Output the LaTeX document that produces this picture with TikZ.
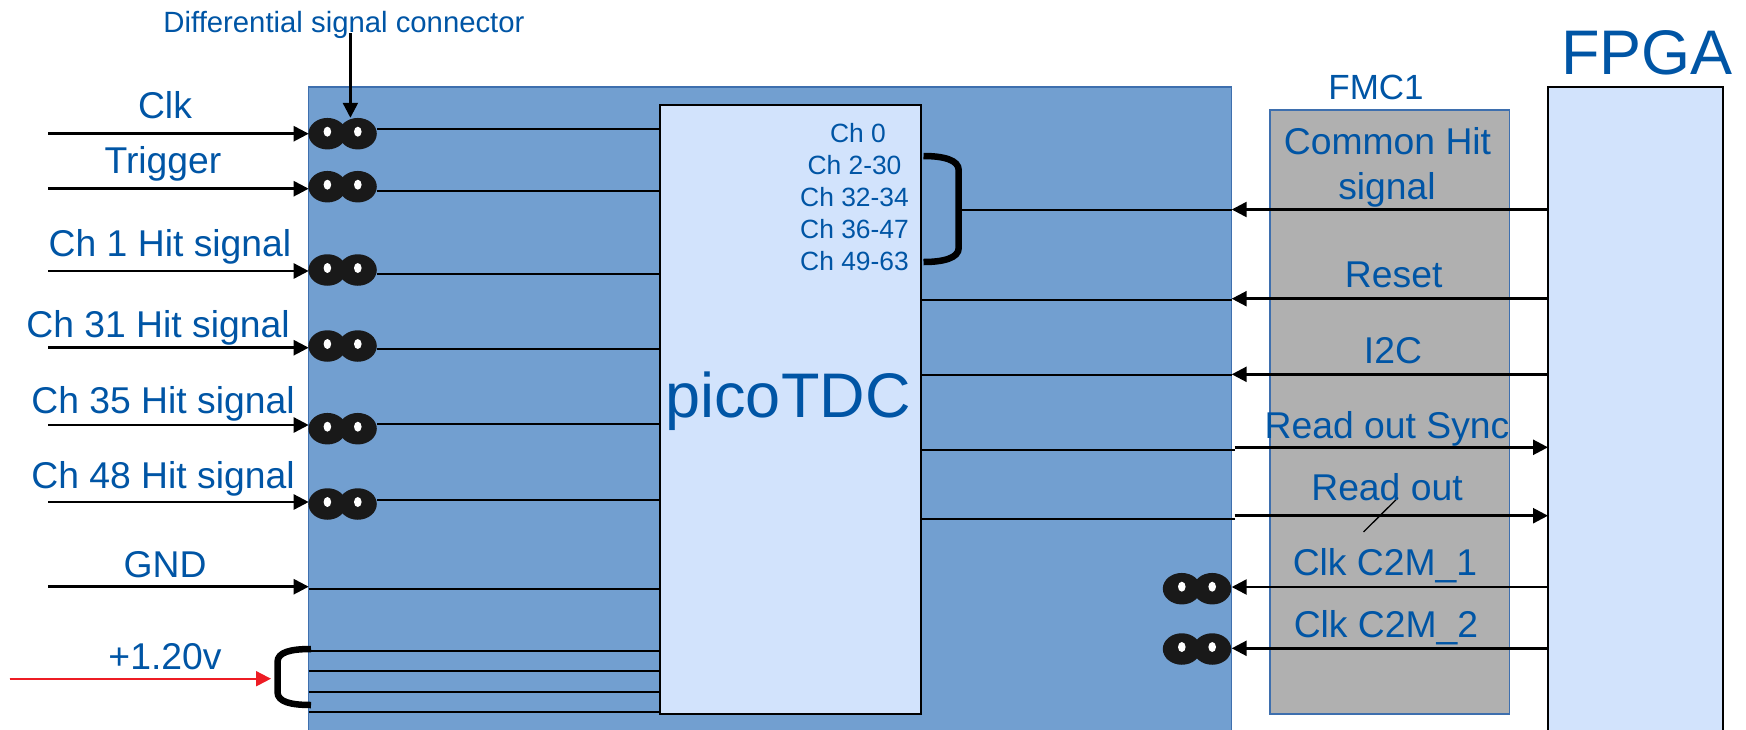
\documentclass[tikz,border=0pt]{standalone}
\usepackage{fontspec}
\setmainfont{Liberation Sans}
\usepackage{xcolor}
\usetikzlibrary{arrows.meta,positioning,calc,shapes.geometric}
\definecolor{sigblue}{HTML}{0055A5}
\definecolor{boardblue}{HTML}{729FD0}
\definecolor{edgeblue}{HTML}{3E6FAE}
\definecolor{chipblue}{HTML}{D2E3FC}
\definecolor{fmcgray}{HTML}{B0B0B0}
\definecolor{pinblack}{HTML}{191919}
\definecolor{supplyred}{HTML}{ED1C24}

\begin{document}
\begin{tikzpicture}[
  x=1pt, y=-1pt,
  boxbase/.style={draw, rectangle, inner sep=0pt, outer sep=0pt, anchor=north west},
  boardbox/.style={boxbase, fill=boardblue, draw=edgeblue, line width=1.5pt},
  chipbox/.style={boxbase, fill=chipblue, draw=black, line width=2pt},
  fmcbox/.style={boxbase, fill=fmcgray, draw=edgeblue, line width=1.5pt},
  lbl/.style={text=sigblue, anchor=base, inner sep=0pt, yshift=-1pt, font=\fontsize{37.3}{40}\selectfont},
  lblch/.style={lbl, font=\fontsize{26.4}{30}\selectfont},
  arr/.style={-{Triangle[length=15pt,width=15pt]}, line width=2.5pt},
  wire/.style={line width=2pt},
  brack/.style={line width=6.5pt},
  pinhalf/.style={ellipse, fill=pinblack, inner sep=0pt, minimum width=38pt, minimum height=31.5pt},
  diffpair/.pic={
    \node[pinhalf] (-a) at (-15.2,0) {};
    \node[pinhalf] (-b) at (15.2,0) {};
    \fill[white] (-15.2,-2) ellipse (3.8 and 5);
    \fill[white] (15.2,-2) ellipse (3.8 and 5);
  }
]
\path[use as bounding box, clip] (0,0) rectangle (1746,729);

% boxes
\node[boardbox, minimum width=923pt, minimum height=670pt] (board) at (308.7,87) {};
\node[chipbox, minimum width=261pt, minimum height=609pt] (pico) at (660,105) {};
\node[fmcbox, minimum width=239.5pt, minimum height=604pt] (fmc) at (1270,110) {};
\node[chipbox, minimum width=175pt, minimum height=670pt] (fpga) at (1548,87) {};

\node[lbl, font=\fontsize{63}{66}\selectfont] (picolbl) at (788,416) {picoTDC};
\node[lbl, font=\fontsize{63}{66}\selectfont] (fpgalbl) at (1647,73) {FPGA};
\node[lbl, font=\fontsize{35}{38}\selectfont] (fmclbl) at (1376,98.3) {FMC1};
\node[lbl, font=\fontsize{29.3}{32}\selectfont] (difflbl) at (344,31.7) {Differential signal connector};

% inputs with a differential connector
\foreach \nm/\txt/\lx/\ly/\ya/\yc/\yw in {
  clk/Clk/165/117.3/133.7/133.7/129.3,
  trig/Trigger/163/172/188.7/186.7/191.3,
  chone/Ch 1 Hit signal/170/255/271/270/273.7,
  chtone/Ch 31 Hit signal/158/336.7/347.7/346/349,
  chtfive/Ch 35 Hit signal/163/412.7/425/428.7/424,
  chfeight/Ch 48 Hit signal/163/487.7/502/504/500}{
  \pic (\nm) at (342.6,\yc) {diffpair};
  \node[lbl] (\nm lbl) at (\lx,\ly) {\txt};
  \coordinate (\nm in) at (48,\ya);
  \draw[arr] (\nm in) -- (board.west |- \nm in);
  \draw[wire] (\nm-b.east |- 0,\yw) -- (pico.west |- 0,\yw);
}

% ground and supply
\node[lbl] (gndlbl) at (165,576) {GND};
\coordinate (gndin) at (48,586.7);
\draw[arr] (gndin) -- (board.west |- gndin);
\draw[wire] (board.west |- 0,589) -- (pico.west |- 0,589);

\foreach \yw in {651,671,692,712.3}
  \draw[wire] (board.west |- 0,\yw) -- (pico.west |- 0,\yw);

\node[lbl] (vlbl) at (165,668) {+1.20v};
\coordinate (vtop) at (311,649);
\coordinate (vbot) at (311,705);
\coordinate (vin) at (9.5,678.7);
\coordinate (vend) at (271,678.7);
\draw[brack] (vtop) .. controls +(-20,0) and +(0,-10) .. (277.5,662) -- (277.5,692) .. controls +(0,10) and +(-20,0) .. (vbot);
\draw[arr, draw=supplyred, fill=supplyred, line width=2pt] (vin) -- (vend);

% chip channels
\node[lblch] (chz) at (858,141.7) {Ch 0};
\node[lblch] (cha) at (854.5,173.7) {Ch 2-30};
\node[lblch] (chb) at (854.5,205.7) {Ch 32-34};
\node[lblch] (chc) at (854.5,237.7) {Ch 36-47};
\node[lblch] (chd) at (854.5,269.3) {Ch 49-63};
\coordinate (brtop) at (923.5,156);
\coordinate (brbot) at (923.5,262);
\coordinate (brhit) at (958.7,210);
\draw[brack] (brtop) .. controls +(20,0) and +(0,-10) .. (958.7,170) -- (958.7,248) .. controls +(0,10) and +(20,0) .. (brbot);
\draw[wire] (brhit) -- (board.east |- brhit);

% fpga side, towards the board
\foreach \ya in {209.5,298.7,374.3}{
  \draw[arr] (fpga.west |- 0,\ya) -- (board.east |- 0,\ya);
}
\draw[wire] (pico.east |- 0,299.5) -- (board.east |- 0,299.5);
\draw[wire] (pico.east |- 0,375) -- (board.east |- 0,375);

% read out, towards the fpga
\coordinate (syncgap) at (1234.7,447.3);
\coordinate (readgap) at (1234.7,515.7);
\draw[arr] (syncgap) -- (fpga.west |- syncgap);
\draw[arr] (readgap) -- (fpga.west |- readgap);
\draw[wire] (pico.east |- 0,450) -- (syncgap |- 0,450);
\draw[wire] (pico.east |- 0,518.7) -- (readgap |- 0,518.7);
\coordinate (slashtop) at (1398,497.7);
\coordinate (slashbot) at (1363.5,532);
\draw[line width=1.3pt] (slashtop) -- (slashbot);

% clocks from the fpga
\pic (clkm) at (1197,588.7) {diffpair};
\pic (clkn) at (1197,649) {diffpair};
\draw[arr] (fpga.west |- 0,587) -- (board.east |- 0,587);
\draw[arr] (fpga.west |- 0,648.3) -- (board.east |- 0,648.3);

% fmc labels
\node[lbl] (hitlbl) at (1387.5,153) {Common Hit};
\node[lbl] (siglbl) at (1387,198) {signal};
\node[lbl] (rstlbl) at (1393.7,286.7) {Reset};
\node[lbl] (iiclbl) at (1393,362.7) {I2C};
\node[lbl] (synclbl) at (1387,437.7) {Read out Sync};
\node[lbl] (readlbl) at (1387,499.3) {Read out};
\node[lbl] (cmalbl) at (1385,574.3) {Clk C2M\_1};
\node[lbl] (cmblbl) at (1386,636) {Clk C2M\_2};

% pointer to the connector
\coordinate (difftop) at (350.4,33);
\draw[arr] (difftop) -- (difftop |- clk-b.north);
\end{tikzpicture}
\end{document}
